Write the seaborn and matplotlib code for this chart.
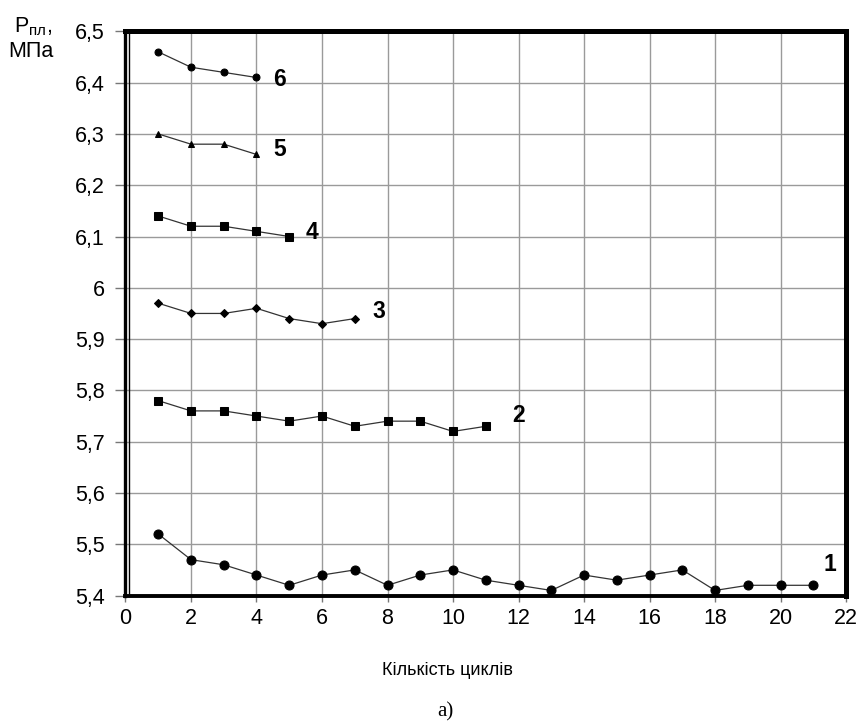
import matplotlib
matplotlib.use("Agg")
import matplotlib.pyplot as plt
import seaborn as sns
import pandas as pd
from matplotlib.ticker import FuncFormatter, MultipleLocator

sns.set_theme(style="white")
plt.rcParams['font.family'] = ['Liberation Sans', 'DejaVu Sans']
plt.rcParams['text.color'] = 'black'

# Reservoir pressure vs. number of cycles, six test series
s1 = [5.52, 5.47, 5.46, 5.44, 5.42, 5.44, 5.45, 5.42, 5.44, 5.45, 5.43,
      5.42, 5.41, 5.44, 5.43, 5.44, 5.45, 5.41, 5.42, 5.42, 5.42]
s2 = [5.78, 5.76, 5.76, 5.75, 5.74, 5.75, 5.73, 5.74, 5.74, 5.72, 5.73]
s3 = [5.97, 5.95, 5.95, 5.96, 5.94, 5.93, 5.94]
s4 = [6.14, 6.12, 6.12, 6.11, 6.10]
s5 = [6.30, 6.28, 6.28, 6.26]
s6 = [6.46, 6.43, 6.42, 6.41]
series = [s1, s2, s3, s4, s5, s6]
series_names = ["1", "2", "3", "4", "5", "6"]

markers = ["o", "s", "D", "s", "^", "o"]
msizes = [6.5, 5.2, 3.6, 5.2, 5.0, 5.0]
label_pos = [(21.5, 5.46), (12.0, 5.752), (7.75, 5.953), (5.7, 6.107), (4.7, 6.269), (4.7, 6.407)]

rows = []
for name, vals in zip(series_names, series):
    for i, v in enumerate(vals, start=1):
        rows.append({"cycle": i, "p": v, "series": name})
df = pd.DataFrame(rows)

fig = plt.figure(figsize=(8.63, 7.27), dpi=100)
ax = fig.add_axes([0.1454, 0.1808, 0.8350, 0.7761])

for name, mk, ms, (lx, ly) in zip(series_names, markers, msizes, label_pos):
    sub = df[df["series"] == name]
    sns.lineplot(data=sub, x="cycle", y="p", ax=ax, color="#333333", linewidth=0.9,
                 marker=mk, markersize=ms, markerfacecolor="black",
                 markeredgecolor="black", zorder=3)
    ax.text(lx, ly, name, fontsize=16.5, fontweight="bold", color="black",
            ha="center", va="center")

ax.set_xlim(0, 22)
ax.set_ylim(5.4, 6.5)
ax.xaxis.set_major_locator(MultipleLocator(2))
ax.yaxis.set_major_locator(MultipleLocator(0.1))


def comma_fmt(v, pos):
    s = f"{v:.1f}"
    if s.endswith(".0"):
        s = s[:-2]
    return s.replace(".", ",")


ax.yaxis.set_major_formatter(FuncFormatter(comma_fmt))
ax.xaxis.set_major_formatter(FuncFormatter(lambda v, p: f"{int(round(v))}"))
ax.grid(True, color="#9a9a9a", linewidth=1.0)
ax.set_axisbelow(True)
ax.tick_params(axis="both", which="major", labelsize=15.5, width=1,
               color="#777777", direction="out", bottom=True, left=True,
               labelcolor="black")
ax.tick_params(axis="y", length=7, pad=8)
ax.tick_params(axis="x", length=4, pad=5)

for side in ["top", "right"]:
    ax.spines[side].set_linewidth(3.6)
    ax.spines[side].set_color("black")
ax.spines["bottom"].set_linewidth(2.8)
ax.spines["bottom"].set_color("black")
ax.spines["left"].set_linewidth(2.4)
ax.spines["left"].set_color("black")
ax.axvline(0.1, color="black", linewidth=1.0, zorder=2)

ax.set_xlabel("")
ax.set_ylabel("")
fig.text(0.518, 0.078, "Кількість циклів", fontsize=13, ha="center", va="center")
fig.text(0.516, 0.021, "а)", fontsize=15, ha="center", va="center",
         family=["Liberation Serif", "DejaVu Serif"])

# axis title in the top-left corner
fig.text(0.016, 0.963, r"P$_{\mathregular{пл}}$,", fontsize=15.5, ha="left", va="center")
fig.text(0.010, 0.929, "МПа", fontsize=15.5, ha="left", va="center")

fig.savefig("out.png", dpi=100)
